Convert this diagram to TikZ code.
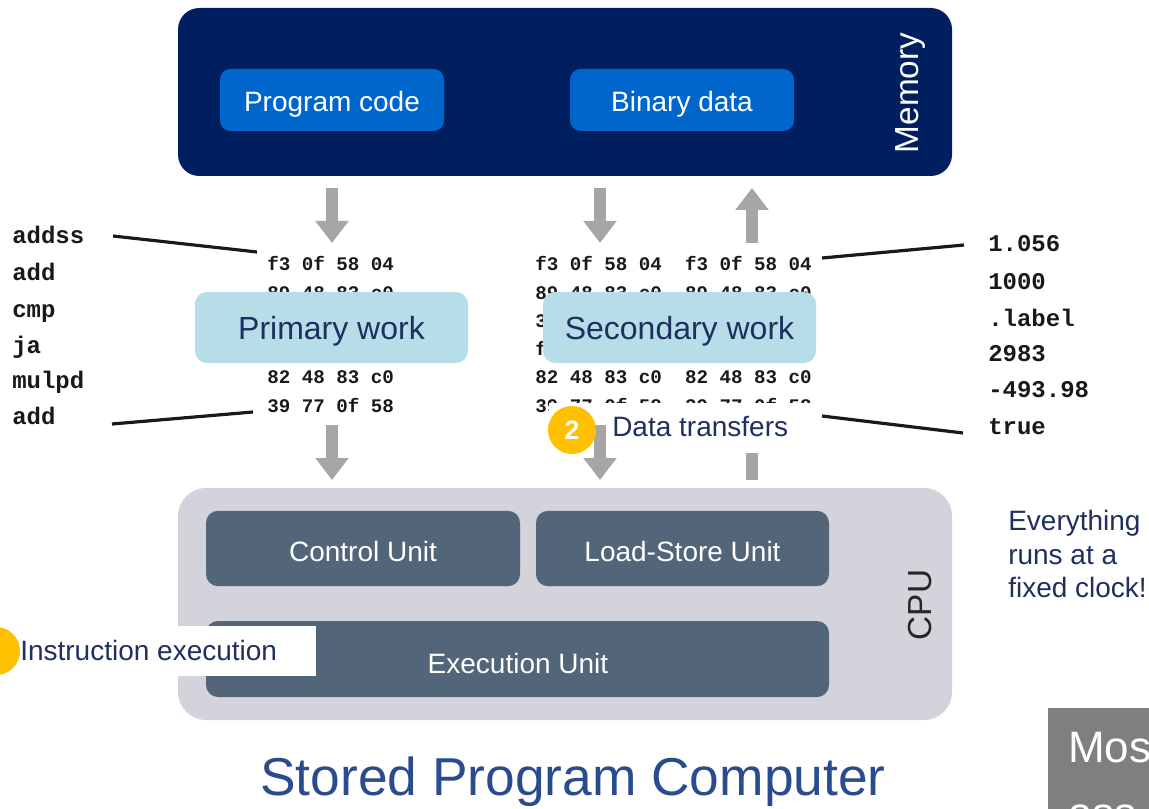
\documentclass[tikz,border=0pt]{standalone}
\usepackage{fontspec}
\setmainfont{Liberation Sans}
\setmonofont{Liberation Mono}
\usetikzlibrary{arrows.meta}
\definecolor{memblue}{HTML}{001F60}
\definecolor{codeblue}{HTML}{0066CC}
\definecolor{arrowgray}{HTML}{A6A6A4}
\definecolor{lightblue}{HTML}{B7DDE8}
\definecolor{navytext}{HTML}{1F2F5F}
\definecolor{cpugray}{HTML}{D3D3DC}
\definecolor{unitslate}{HTML}{536579}
\definecolor{badge}{HTML}{FFC000}
\definecolor{titleblue}{HTML}{2A4B8D}
\definecolor{notegray}{HTML}{7F7F7F}
\newcommand{\fs}[1]{\fontsize{#1}{1.2\dimexpr#1pt\relax}\selectfont}
\tikzset{
  box/.style={rounded corners=8pt, inner sep=0pt, text=white, font=\fs{21}, text height=18pt, text depth=0pt},
  workbox/.style={fill=lightblue, rounded corners=9pt, inner sep=0pt, text=navytext, font=\fs{24},
     minimum width=204.75pt, minimum height=53.25pt, text height=18pt, text depth=0pt},
  unitbox/.style={fill=unitslate, rounded corners=9pt, inner sep=0pt, text=white, font=\fs{21},
     minimum height=56.5pt, text height=19pt, text depth=0pt},
  hex/.style={anchor=base west, inner sep=0pt, font=\ttfamily\bfseries\fs{14.4}, text=black!90},
  asm/.style={anchor=base west, inner sep=0pt, font=\ttfamily\bfseries\fs{18}, text=black!90},
  flow/.style={draw=arrowgray, line width=9pt, -{Triangle[width=24pt,length=16.5pt]}},
  leader/.style={draw=black!90, line width=2.4pt},
  badgecircle/.style={circle, fill=badge, minimum size=36pt, inner sep=0pt, text=white, font=\bfseries\fs{20}},
  labelbox/.style={fill=white, inner sep=0pt},
  navy/.style={text=navytext, font=\fs{21}, inner sep=0pt}
}
\begin{document}
\begin{tikzpicture}[x=0.75pt,y=-0.75pt]
\useasboundingbox (0,0) rectangle (1149,809);
\clip (0,0) rectangle (1149,809);

% Memory
\node[fill=memblue, rounded corners=16pt, minimum width=580.5pt, minimum height=126pt, inner sep=0pt] (mem) at (565,92) {};
\node[text=white, font=\fs{25}, rotate=90, inner sep=0pt] (memlabel) at (910,93) {Memory};
\node[box, fill=codeblue, minimum width=168pt, minimum height=46.5pt] (code) at (332,100) {Program code};
\node[box, fill=codeblue, minimum width=168pt, minimum height=46.5pt] (data) at (682,100) {Binary data};

% upper arrows
\coordinate (u1s) at (332,188); \coordinate (u1e) at (332,243);
\coordinate (u2s) at (600,188); \coordinate (u2e) at (600,243);
\coordinate (u3s) at (752,243); \coordinate (u3e) at (752,188);
\draw[flow] (u1s) -- (u1e);
\draw[flow] (u2s) -- (u2e);
\draw[flow] (u3s) -- (u3e);

% hex rows
\foreach \t [count=\i] in {f3 0f 58 04, 89 48 83 c0, 39 77 0f 58, f3 0f 58 04, 82 48 83 c0, 39 77 0f 58}{
  \pgfmathsetmacro{\yy}{271+28.2*(\i-1)}
  \node[hex] (p\i) at (267,\yy) {\t};
  \node[hex] (s\i) at (535,\yy) {\t\ \ \t};
}

% work boxes
\node[workbox] (primary) at (331.5,327.5) {Primary work};
\node[workbox] (secondary) at (679.5,327.5) {Secondary work};

% mnemonics
\foreach \t/\yy [count=\i] in {addss/244, add/281, cmp/317, ja/353, mulpd/388, add/424}{
  \node[asm] (m\i) at (12,\yy) {\t};
}
\foreach \t/\yy [count=\i] in {1.056/252, 1000/290, .label/326, 2983/361, -493.98/397, true/434}{
  \node[asm] (v\i) at (988,\yy) {\t};
}

% leader lines
\coordinate (la) at (113,236); \coordinate (lb) at (257,252);
\coordinate (lc) at (112,424); \coordinate (ld) at (253,412);
\coordinate (ra) at (822,258); \coordinate (rb) at (964,245);
\coordinate (rc) at (822,416); \coordinate (rd) at (963,433);
\draw[leader] (la) -- (lb);
\draw[leader] (lc) -- (ld);
\draw[leader] (ra) -- (rb);
\draw[leader] (rc) -- (rd);

% CPU
\node[fill=cpugray, rounded corners=21pt, minimum width=580.5pt, minimum height=174pt, inner sep=0pt] (cpu) at (565,604) {};
\node[text=black!85, font=\fs{25}, rotate=90, inner sep=0pt] (cpulabel) at (920,605) {CPU};
\node[unitbox, minimum width=235.5pt] (control) at (363,548.5) {Control Unit};
\node[unitbox, minimum width=219.75pt] (lsu) at (682.5,548.5) {Load-Store Unit};
\node[unitbox, minimum width=467.25pt, minimum height=57pt] (exec) at (517.5,659) {};
\node[text=white, font=\fs{21}, inner sep=0pt, text height=19pt, text depth=0pt] (execlabel) at (518,661) {Execution Unit};

% lower arrows
\coordinate (l1s) at (332,425); \coordinate (l1e) at (332,480);
\coordinate (l2s) at (600,425); \coordinate (l2e) at (600,480);
\coordinate (l3s) at (752,480); \coordinate (l3e) at (752,425);
\draw[flow] (l1s) -- (l1e);
\draw[flow] (l3s) -- (l3e);

% data transfers label
\node[labelbox, minimum width=198pt, minimum height=37.5pt] (dtbox) at (681,428) {};
\draw[flow] (l2s) -- (l2e);
\node[badgecircle] (b2) at (572,430) {2};
\node[navy, anchor=base west] (dt) at (612,436) {Data transfers};

% instruction execution label
\node[labelbox, minimum width=237pt, minimum height=37.5pt] (iebox) at (158,651) {};
\node[badgecircle] (b1) at (-4,651) {};
\node[navy, anchor=base west] (ie) at (20,660) {Instruction execution};

% side note
\node[navy, anchor=north west, align=left] (note) at (1008,510)
  {\fontsize{21}{25.5}\selectfont Everything\\runs at a\\fixed clock!};

% title
\node[text=titleblue, font=\fs{40}, inner sep=0pt, anchor=base] (title) at (573,795) {Stored Program Computer};

% gray note box
\node[fill=notegray, minimum width=100pt, minimum height=100pt, inner sep=0pt, anchor=north west] (gbox) at (1048,708) {};
\node[text=white, font=\fs{33}, anchor=base west, inner sep=0pt] (gtext1) at (1068,762) {Mos};
\node[text=white, font=\fs{33}, anchor=base west, inner sep=0pt] (gtext2) at (1068,828) {ass};
\end{tikzpicture}
\end{document}
